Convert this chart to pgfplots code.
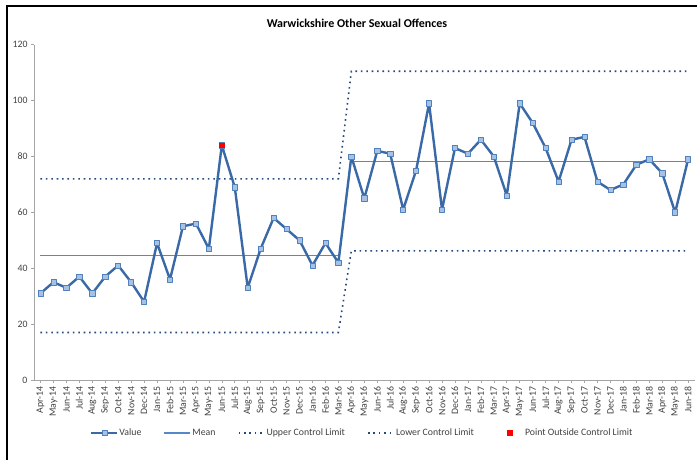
\documentclass[border=0pt]{standalone}
\usepackage{pgfplots}
\pgfplotsset{compat=1.18}
\usepackage{fontspec}
\setmainfont{Carlito}
\definecolor{valline}{RGB}{58,105,167}
\definecolor{markfill}{RGB}{167,193,228}
\definecolor{markedge}{RGB}{79,129,189}
\definecolor{meanc}{RGB}{84,136,200}
\definecolor{limc}{RGB}{37,72,125}
\definecolor{axgray}{RGB}{165,165,165}
\definecolor{txt}{RGB}{64,64,64}
\begin{document}
\begin{tikzpicture}[x=1pt,y=1pt]
\useasboundingbox (0,0) rectangle (697,459);
\draw[line width=2pt] (7,453) rectangle (730,-30);
\node[font=\bfseries\fontsize{12}{14}\selectfont] at (357,436) {Warwickshire Other Sexual Offences};
\begin{axis}[
  at={(34pt,79pt)}, anchor=south west, scale only axis,
  width=660.6pt, height=335.3pt,
  xmin=-0.5, xmax=50.5, ymin=0, ymax=120,
  axis lines=left, axis line style={axgray,-,line width=0.8pt},
  ytick={0,20,...,120}, xtick={0,...,50},
  xticklabels={Apr-14,May-14,Jun-14,Jul-14,Aug-14,Sep-14,Oct-14,Nov-14,Dec-14,Jan-15,Feb-15,Mar-15,
    Apr-15,May-15,Jun-15,Jul-15,Aug-15,Sep-15,Oct-15,Nov-15,Dec-15,Jan-16,Feb-16,Mar-16,
    Apr-16,May-16,Jun-16,Jul-16,Aug-16,Sep-16,Oct-16,Nov-16,Dec-16,Jan-17,Feb-17,Mar-17,
    Apr-17,May-17,Jun-17,Jul-17,Aug-17,Sep-17,Oct-17,Nov-17,Dec-17,Jan-18,Feb-18,Mar-18,
    Apr-18,May-18,Jun-18},
  tick style={axgray,line width=0.6pt}, major tick length=3pt, tick align=outside,
  /pgf/number format/assume math mode=true,
  ticklabel style={font=\fontsize{9.8}{11}\selectfont, text=txt},
  xticklabel style={rotate=90, anchor=east},
  legend image code/.code={\pgfpathrectangle{\pgfpoint{0pt}{-2pt}}{\pgfpoint{26pt}{4pt}}\pgfusepath{use as bounding box}\draw[mark repeat=2,mark phase=2] plot coordinates {(0pt,0pt) (13pt,0pt) (26pt,0pt)};},
  legend style={at={(0.498,-0.158)}, anchor=center, draw=none, fill=none,
    legend columns=5, font=\fontsize{9.8}{11}\selectfont, text=txt,
    /tikz/every odd column/.append style={column sep=0pt},
    /tikz/every even column/.append style={column sep=21pt}},
  clip=false,
]
% mean
\addplot[meanc, line width=1.3pt, forget plot] coordinates {(0,44.5) (23,44.5)};
\addplot[meanc, line width=1.3pt, forget plot] coordinates {(24,78.3) (50,78.3)};
% UCL
\addplot[limc, line width=1.6pt, dash pattern=on 1.6pt off 3.8pt, forget plot] coordinates {(0,72) (23,72) (24,110.5) (50,110.5)};
% LCL
\addplot[limc, line width=1.6pt, dash pattern=on 1.6pt off 3.8pt, forget plot] coordinates {(0,17) (23,17) (24,46.2) (50,46.2)};
% values
\addplot[valline, line width=2.4pt, line join=round, mark=square*, mark size=2.6pt,
  mark options={fill=markfill, draw=markedge, line width=0.6pt}] coordinates {
(0,31) (1,35) (2,33) (3,37) (4,31) (5,37) (6,41) (7,35) (8,28) (9,49) (10,36) (11,55)
(12,56) (13,47) (14,84) (15,69) (16,33) (17,47) (18,58) (19,54) (20,50) (21,41) (22,49) (23,42)
(24,80) (25,65) (26,82) (27,81) (28,61) (29,75) (30,99) (31,61) (32,83) (33,81) (34,86) (35,80)
(36,66) (37,99) (38,92) (39,83) (40,71) (41,86) (42,87) (43,71) (44,68) (45,70) (46,77) (47,79)
(48,74) (49,60) (50,79)};
\addlegendentry{Value}
\addlegendimage{meanc, line width=1.3pt}
\addlegendentry{Mean}
\addlegendimage{limc, line width=1.6pt, dash pattern=on 1.6pt off 3.8pt}
\addlegendentry{Upper Control Limit}
\addlegendimage{limc, line width=1.6pt, dash pattern=on 1.6pt off 3.8pt}
\addlegendentry{Lower Control Limit}
\addplot[only marks, mark=square*, mark size=2.4pt, mark options={draw=red, fill=red}] coordinates {(14,84)};
\addlegendentry{Point Outside Control Limit}
\end{axis}
\end{tikzpicture}
\end{document}
